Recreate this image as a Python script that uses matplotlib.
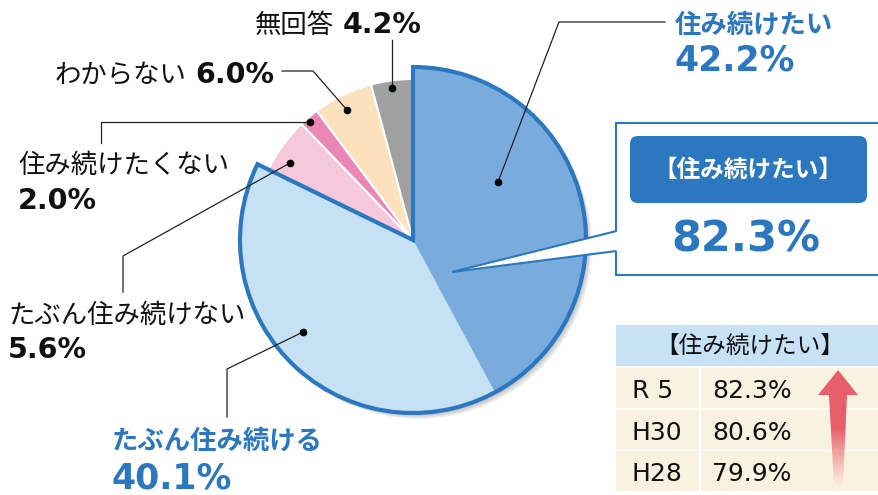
import matplotlib
matplotlib.use('Agg')
import matplotlib.pyplot as plt
from matplotlib.patches import Wedge, Rectangle, Polygon, FancyBboxPatch
import numpy as np

# ---- data ----
categories = ['住み続けたい', 'たぶん住み続ける', 'たぶん住み続けない',
              '住み続けたくない', 'わからない', '無回答']
values = [42.2, 40.1, 5.6, 2.0, 6.0, 4.2]
slice_colors = ['#79ACDD', '#C6E0F4', '#F5C8DC', '#EA87B4', '#FBE1BC', '#A0A1A1']
summary_label = '【住み続けたい】'
summary_value = 82.3
years = ['R 5', 'H30', 'H28']
rates = [82.3, 80.6, 79.9]

BLUE = '#2B78C0'
W, H = 879, 495

plt.rcParams['font.family'] = ['Noto Sans CJK JP', 'DejaVu Sans']

fig = plt.figure(figsize=(W / 100, H / 100), dpi=100)
ax = fig.add_axes([0, 0, 1, 1])


def Y(py):
    return H - py


cx, cy = 413, Y(240)
r_small, r_big = 161, 173

wedges, _ = ax.pie(values, colors=slice_colors, startangle=90, counterclock=False,
                   center=(cx, cy), radius=r_small, frame=True,
                   wedgeprops=dict(edgecolor='white', linewidth=1.5, zorder=2))
for w in wedges[:2]:
    w.set_radius(r_big)
    w.set_edgecolor(w.get_facecolor())
    w.set_linewidth(0.3)

# shadow
for k, off in enumerate([2, 3, 4, 5, 6]):
    for i, w in enumerate(wedges):
        sh = Wedge((cx + off, cy - off), w.r, w.theta1, w.theta2,
                   facecolor='black', edgecolor='none', alpha=0.05, zorder=1)
        ax.add_patch(sh)

# outline of the "want to keep living" group
outline = Wedge((cx, cy), r_big, wedges[1].theta1, wedges[0].theta2, fill=False,
                edgecolor=BLUE, linewidth=3, joinstyle='miter', zorder=3)
ax.add_patch(outline)

# ---- callout box ----
ax.add_patch(Rectangle((616, Y(275)), 280, 152, facecolor='white',
                       edgecolor=BLUE, linewidth=1.5, zorder=4))
tip = (452, Y(272))
ax.add_patch(Polygon([tip, (618, Y(231)), (618, Y(251))], closed=True,
                     facecolor='white', edgecolor='none', zorder=5))
ax.plot([tip[0], 616.5], [tip[1], Y(231)], color=BLUE, lw=1.5, zorder=6,
        solid_capstyle='butt')
ax.plot([tip[0], 616.5], [tip[1], Y(251)], color=BLUE, lw=1.5, zorder=6,
        solid_capstyle='butt')
ax.add_patch(FancyBboxPatch((630, Y(203)), 237, 67,
                            boxstyle='round,pad=0,rounding_size=8',
                            facecolor=BLUE, edgecolor='none', zorder=6))
ax.text(748, Y(170), summary_label, color='white', fontsize=17,
        fontweight='bold', ha='center', va='center', zorder=7)
ax.text(746, Y(240), f'{summary_value:.1f}%', color=BLUE, fontsize=31,
        fontweight='bold', family='DejaVu Sans', ha='center', va='center', zorder=7)

# ---- table ----
ax.add_patch(Rectangle((616, Y(366)), 270, 41, facecolor='#C8E2F5',
                       edgecolor='none', zorder=4))
ax.text(750, Y(346), summary_label, color='#111111', fontsize=17,
        ha='center', va='center', zorder=5)
row_top = [368, 410, 451]
row_h = 39.5
for i, (yr, rt) in enumerate(zip(years, rates)):
    t = row_top[i]
    ax.add_patch(Rectangle((616, Y(t + row_h)), 83, row_h, facecolor='#FAF2E0',
                           edgecolor='none', zorder=4))
    ax.add_patch(Rectangle((701, Y(t + row_h)), 190, row_h, facecolor='#FAF2E0',
                           edgecolor='none', zorder=4))
    ax.text(632, Y(t + row_h / 2 + 10), yr, fontsize=18, family='DejaVu Sans',
            color='#111111', ha='left', va='baseline', zorder=5)
    ax.text(712, Y(t + row_h / 2 + 10), f'{rt:.1f}%', fontsize=18,
            family='DejaVu Sans', color='#111111', ha='left', va='baseline', zorder=5)

# gradient arrow
arrow_pts = [(838, Y(370)), (818, Y(395)), (829, Y(395)), (834, Y(486)),
             (843, Y(486)), (847, Y(395)), (858, Y(395))]
arrow = Polygon(arrow_pts, closed=True, facecolor='none', edgecolor='none', zorder=6)
ax.add_patch(arrow)
n = 200
ys = np.linspace(0, 1, n)  # 0 bottom -> 1 top
alpha = np.clip((ys - 0.0) / 0.5, 0.0, 1.0) ** 1.1
grad = np.zeros((n, 1, 4))
grad[..., 0] = 0xE8 / 255
grad[..., 1] = 0x5E / 255
grad[..., 2] = 0x6A / 255
grad[:, 0, 3] = alpha
im = ax.imshow(grad, extent=(815, 861, Y(487), Y(369)), origin='lower',
               aspect='auto', zorder=6, interpolation='bilinear')
im.set_clip_path(arrow)

# ---- labels & leaders ----
def leader(pts, dot):
    xs = [p[0] for p in pts] + [dot[0]]
    ys_ = [Y(p[1]) for p in pts] + [Y(dot[1])]
    ax.plot(xs, ys_, color='#222222', lw=0.9, zorder=8)
    ax.plot(dot[0], Y(dot[1]), 'o', color='black', ms=4.5, zorder=9)


def jtext(x, yc, s, color='#111111', size=19, weight='normal'):
    ax.text(x, Y(yc + 0.385 * size / 0.72), s, color=color, fontsize=size,
            fontweight=weight, ha='left', va='baseline', zorder=8)


def ptext(x, yc, s, color='#111111', size=20.5):
    ax.text(x, Y(yc + 0.365 * size / 0.72), s, color=color, fontsize=size,
            fontweight='bold', family='DejaVu Sans', ha='left', va='baseline', zorder=8)


pct = [f'{v:.1f}%' for v in values]

# 住み続けたい
leader([(665, 22), (559, 22)], (498, 182))
jtext(675, 22, categories[0], color=BLUE, weight='bold')
ptext(675, 58, pct[0], color=BLUE, size=25)

# たぶん住み続ける
leader([(227, 417), (227, 369)], (303, 332))
jtext(112, 438, categories[1], color=BLUE, weight='bold')
ptext(112, 476, pct[1], color=BLUE, size=25)

# たぶん住み続けない
leader([(123, 292), (123, 256)], (290, 163))
jtext(8, 313, categories[2])
ptext(8, 348, pct[2])

# 住み続けたくない
leader([(101, 143), (101, 122)], (310, 122))
jtext(18, 163, categories[3])
ptext(18, 199, pct[3])

# わからない
leader([(282, 71), (313, 71)], (347, 110))
jtext(55, 73, categories[4])
ptext(195, 73, pct[4])

# 無回答
leader([(392, 40)], (392, 88))
jtext(255, 23, categories[5])
ptext(343, 23, pct[5])

ax.set_xlim(0, W)
ax.set_ylim(0, H)
ax.set_aspect('equal')
ax.axis('off')
fig.savefig('out.png', dpi=100, facecolor='white')
